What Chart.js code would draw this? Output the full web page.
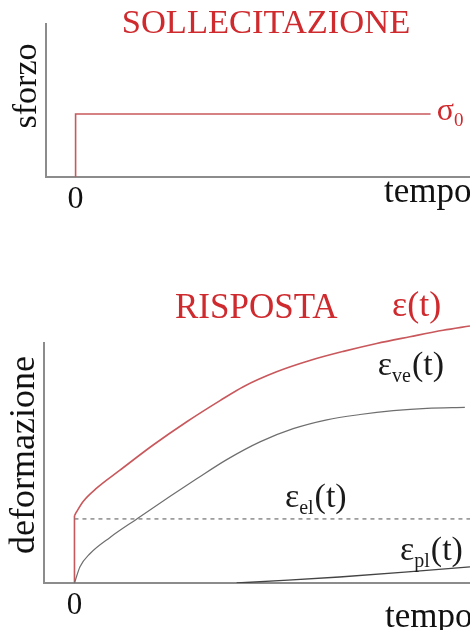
<!DOCTYPE html>
<html>
<head>
<meta charset="utf-8">
<script src="https://cdn.jsdelivr.net/npm/chart.js@4.4.0/dist/chart.umd.min.js"></script>
<style>
  html,body{margin:0;padding:0;background:#fff;}
  #wrap{position:relative;width:470px;height:630px;overflow:hidden;}
  .box{position:absolute;left:0;}
</style>
</head>
<body>
<div id="wrap">
  <div class="box" style="top:0;width:470px;height:240px;"><canvas id="top" width="470" height="240"></canvas></div>
  <div class="box" style="top:240px;width:470px;height:390px;"><canvas id="bot" width="470" height="390"></canvas></div>
</div>
<script>
// ---- data ----
const stressTime = [0, 0, 9.0];
const stressValue = [0, 1, 1];

const jumpTime = [0, 0];
const jumpValue = [0, 2.80];

const totalTime = [0, 0.056, 0.22, 0.56, 1.15, 1.99, 2.84, 3.68, 4.27, 5.11, 5.95, 6.80, 7.64, 8.48, 9.32, 10.0];
const totalStrain = [2.80, 2.97, 3.40, 3.95, 4.70, 5.75, 6.72, 7.60, 8.18, 8.80, 9.27, 9.65, 9.98, 10.26, 10.53, 10.71];

const veTime = [0, 0.14, 0.39, 0.90, 1.57, 2.41, 3.09, 3.85, 4.69, 5.53, 6.38, 7.22, 8.06, 8.91, 9.87];
const veStrain = [0, 0.68, 1.22, 1.90, 2.66, 3.60, 4.34, 5.14, 5.88, 6.43, 6.80, 7.02, 7.18, 7.28, 7.32];

const elTime = [0, 10];
const elStrain = [2.67, 2.67];

const plTime = [4.1, 6.7, 10];
const plStrain = [0, 0.25, 0.67];

const xTickLabels = ['0'];

// ---- helpers ----
const pts = (xs, ys) => xs.map((x, i) => ({x: x, y: ys[i]}));
const SERIF = '"Liberation Serif", "DejaVu Serif", serif';
const RED = '#cf2a2e';
const LINE_RED = '#c9585c';
const AXIS = '#8c8c8c';

function drawSubLabel(ctx, x, y, main, sub, tail, size, color) {
  ctx.save();
  ctx.fillStyle = color;
  ctx.textBaseline = 'alphabetic';
  ctx.textAlign = 'left';
  ctx.font = size + 'px ' + SERIF;
  ctx.fillText(main, x, y);
  let w = ctx.measureText(main).width;
  const ss = Math.round(size * 0.58);
  ctx.font = ss + 'px ' + SERIF;
  ctx.fillText(sub, x + w, y + size * 0.2);
  w += ctx.measureText(sub).width + 1;
  if (tail) {
    ctx.font = size + 'px ' + SERIF;
    ctx.fillText(tail, x + w, y);
  }
  ctx.restore();
}

function commonScales(xmin, ymax) {
  return {
    x: {
      type: 'linear', min: xmin, max: 10,
      ticks: {display: false},
      grid: {display: true, color: 'rgba(0,0,0,0)', drawTicks: false},
      border: {display: true, color: AXIS, width: 2}
    },
    y: {
      type: 'linear', min: 0, max: ymax,
      ticks: {display: false},
      grid: {display: true, color: 'rgba(0,0,0,0)', drawTicks: false},
      border: {display: true, color: AXIS, width: 2}
    }
  };
}

// ---- top chart: SOLLECITAZIONE ----
const topTexts = {
  id: 'topTexts',
  afterDraw(chart) {
    const {ctx, scales: {x, y}} = chart;
    ctx.save();
    ctx.fillStyle = RED;
    ctx.font = '34.5px ' + SERIF;
    ctx.textAlign = 'center';
    ctx.textBaseline = 'alphabetic';
    ctx.fillText('SOLLECITAZIONE', 266, 33);
    ctx.fillStyle = '#111';
    ctx.font = '32px ' + SERIF;
    ctx.fillText(xTickLabels[0], x.getPixelForValue(0), 208);
    ctx.textAlign = 'left';
    ctx.font = '35px ' + SERIF;
    ctx.fillText('tempo', 384, 202);
    ctx.translate(36, 86);
    ctx.rotate(-Math.PI / 2);
    ctx.textAlign = 'center';
    ctx.font = '34px ' + SERIF;
    ctx.fillText('sforzo', 0, 0);
    ctx.restore();
    drawSubLabel(ctx, x.getPixelForValue(9.16), y.getPixelForValue(0.905), 'σ', '0', '', 32, RED);
  }
};

new Chart(document.getElementById('top'), {
  type: 'line',
  data: {
    datasets: [{
      data: pts(stressTime, stressValue),
      borderColor: LINE_RED, borderWidth: 1.6, pointRadius: 0, tension: 0, fill: false
    }]
  },
  options: {
    responsive: false, animation: false, devicePixelRatio: 1,
    layout: {padding: {left: 46, top: 24, right: 0, bottom: 63}},
    plugins: {legend: {display: false}, tooltip: {enabled: false}, title: {display: false}},
    scales: commonScales(-0.75, 2.43)
  },
  plugins: [topTexts]
});

// ---- bottom chart: RISPOSTA ----
const botTexts = {
  id: 'botTexts',
  afterDraw(chart) {
    const {ctx, scales: {x, y}} = chart;
    ctx.save();
    ctx.fillStyle = RED;
    ctx.font = '35px ' + SERIF;
    ctx.textAlign = 'left';
    ctx.textBaseline = 'alphabetic';
    ctx.fillText('RISPOSTA', 175, 318 - 240);
    ctx.fillStyle = '#111';
    ctx.textAlign = 'center';
    ctx.font = '31px ' + SERIF;
    ctx.fillText(xTickLabels[0], x.getPixelForValue(0), 614 - 240);
    ctx.textAlign = 'left';
    ctx.font = '35px ' + SERIF;
    ctx.fillText('tempo', 385, 627 - 240);
    ctx.translate(34, 455 - 240);
    ctx.rotate(-Math.PI / 2);
    ctx.textAlign = 'center';
    ctx.font = '36px ' + SERIF;
    ctx.fillText('deformazione', 0, 0);
    ctx.restore();
    ctx.save();
    ctx.fillStyle = RED;
    ctx.font = '36px ' + SERIF;
    ctx.fillText('ε(t)', x.getPixelForValue(8.03), y.getPixelForValue(11.13));
    ctx.restore();
    drawSubLabel(ctx, x.getPixelForValue(7.67), y.getPixelForValue(8.67), 'ε', 've', '(t)', 34, '#1a1a1a');
    drawSubLabel(ctx, x.getPixelForValue(5.32), y.getPixelForValue(3.17), 'ε', 'el', '(t)', 34, '#1a1a1a');
    drawSubLabel(ctx, x.getPixelForValue(8.23), y.getPixelForValue(0.96), 'ε', 'pl', '(t)', 34, '#1a1a1a');
  }
};

new Chart(document.getElementById('bot'), {
  type: 'line',
  data: {
    datasets: [
      {data: pts(elTime, elStrain), borderColor: '#7a7a7a', borderWidth: 1.3, borderDash: [4, 4], pointRadius: 0, tension: 0, fill: false},
      {data: pts(plTime, plStrain), borderColor: '#444', borderWidth: 1.4, pointRadius: 0, tension: 0.3, fill: false},
      {data: pts(veTime, veStrain), borderColor: '#6e6e6e', borderWidth: 1.2, pointRadius: 0, cubicInterpolationMode: 'monotone', fill: false, clip: false},
      {data: pts(jumpTime, jumpValue), borderColor: LINE_RED, borderWidth: 1.6, pointRadius: 0, tension: 0, fill: false, clip: false},
      {data: pts(totalTime, totalStrain), borderColor: LINE_RED, borderWidth: 1.6, pointRadius: 0, cubicInterpolationMode: 'monotone', fill: false, clip: false}
    ]
  },
  options: {
    responsive: false, animation: false, devicePixelRatio: 1,
    layout: {padding: {left: 44, top: 103, right: 0, bottom: 47}},
    plugins: {legend: {display: false}, tooltip: {enabled: false}, title: {display: false}},
    scales: commonScales(-0.77, 10)
  },
  plugins: [botTexts]
});
</script>
</body>
</html>
